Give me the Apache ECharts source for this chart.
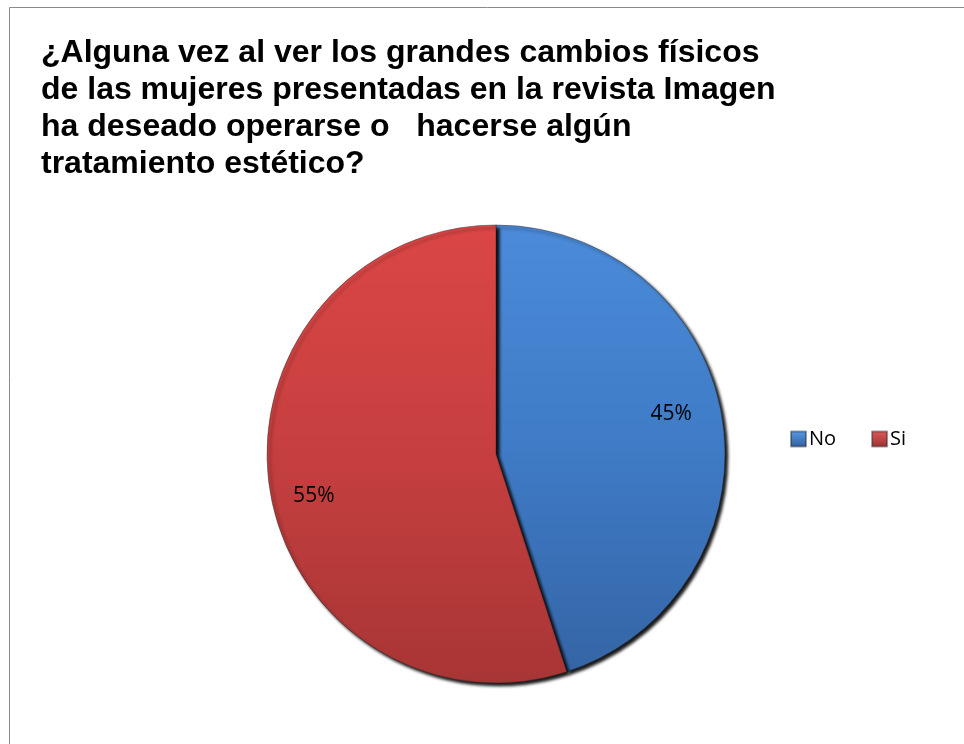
<!DOCTYPE html>
<html>
<head>
<meta charset="utf-8">
<script src="https://cdn.jsdelivr.net/npm/echarts@6/dist/echarts.min.js"></script>
<style>
  html, body { margin: 0; padding: 0; background: #ffffff; }
  #chart { width: 964px; height: 744px; }
</style>
</head>
<body>
<div id="chart"></div>
<script>
// Survey answers (share of respondents)
const categories = ['No', 'Si'];
const shares = [45, 55];
const titleLines = [
  '¿Alguna vez al ver los grandes cambios físicos',
  'de las mujeres presentadas en la revista Imagen',
  'ha deseado operarse o   hacerse algún',
  'tratamiento estético?'
];

// Vertical gradients giving each slice its glossy look
const sliceFills = [
  new echarts.graphic.LinearGradient(0, 0, 0, 1, [
    { offset: 0, color: '#4b8bd9' },
    { offset: 0.5, color: '#3f7bc6' },
    { offset: 1, color: '#3465a6' }
  ]),
  new echarts.graphic.LinearGradient(0, 0, 0, 1, [
    { offset: 0, color: '#db4646' },
    { offset: 0.5, color: '#c63f3f' },
    { offset: 1, color: '#a83535' }
  ])
];
const legendFills = [
  new echarts.graphic.LinearGradient(0, 0, 0, 1, [
    { offset: 0, color: '#5a9be6' }, { offset: 1, color: '#2f5f9f' }
  ]),
  new echarts.graphic.LinearGradient(0, 0, 0, 1, [
    { offset: 0, color: '#e05a5a' }, { offset: 1, color: '#9c3030' }
  ])
];
// small nudges for the percentage labels of each slice
const labelNudges = [[-10, -11], [3, 13]];

const pieData = categories.map((name, i) => ({
  name: name,
  value: shares[i],
  itemStyle: { color: sliceFills[i] }
}));

const chart = echarts.init(document.getElementById('chart'), null, { renderer: 'canvas' });

chart.setOption({
  animation: false,
  backgroundColor: '#ffffff',
  title: {
    text: titleLines.join('\n'),
    left: 36,
    top: 30,
    textStyle: {
      fontFamily: '"Liberation Sans", Arial, sans-serif',
      fontWeight: 'bold',
      fontSize: 32,
      lineHeight: 37,
      color: '#000000'
    }
  },
  legend: {
    data: categories.map((name, i) => ({ name: name, itemStyle: { color: legendFills[i] } })),
    orient: 'horizontal',
    left: 785,
    top: 424,
    icon: 'rect',
    itemWidth: 15,
    itemHeight: 15,
    itemGap: 35,
    textStyle: {
      fontFamily: '"Open Sans", "Liberation Sans", sans-serif',
      fontSize: 20,
      color: '#000000',
      padding: [0, 0, 0, -2]
    },
    selectedMode: false
  },
  graphic: [{
    type: 'rect',
    shape: { x: 9.5, y: 7.5, width: 1000, height: 800 },
    style: { fill: 'none', stroke: '#8a8a8a', lineWidth: 1 },
    silent: true,
    z: 0
  }],
  series: [
    {
      type: 'pie',
      center: [496, 454],
      radius: [0, 229],
      startAngle: 90,
      clockwise: true,
      data: pieData,
      label: { show: false },
      labelLine: { show: false },
      itemStyle: {
        borderColor: 'rgba(40,40,40,0.45)',
        borderWidth: 1,
        shadowColor: 'rgba(0,0,0,0.9)',
        shadowBlur: 3,
        shadowOffsetX: 3,
        shadowOffsetY: 3
      },
      emphasis: { disabled: true },
      z: 2
    },
    {
      // transparent ring used only to place the percentage labels
      type: 'pie',
      center: [496, 454],
      radius: [140, 229],
      startAngle: 90,
      clockwise: true,
      silent: true,
      data: categories.map((name, i) => ({
        name: name,
        value: shares[i],
        label: { offset: labelNudges[i] }
      })),
      itemStyle: { color: 'rgba(0,0,0,0)' },
      label: {
        show: true,
        position: 'inside',
        formatter: p => p.value + '%',
        fontFamily: '"Open Sans", "Liberation Sans", sans-serif',
        fontSize: 21,
        color: '#000000'
      },
      labelLine: { show: false },
      emphasis: { disabled: true },
      z: 3
    }
  ]
});
</script>
</body>
</html>
